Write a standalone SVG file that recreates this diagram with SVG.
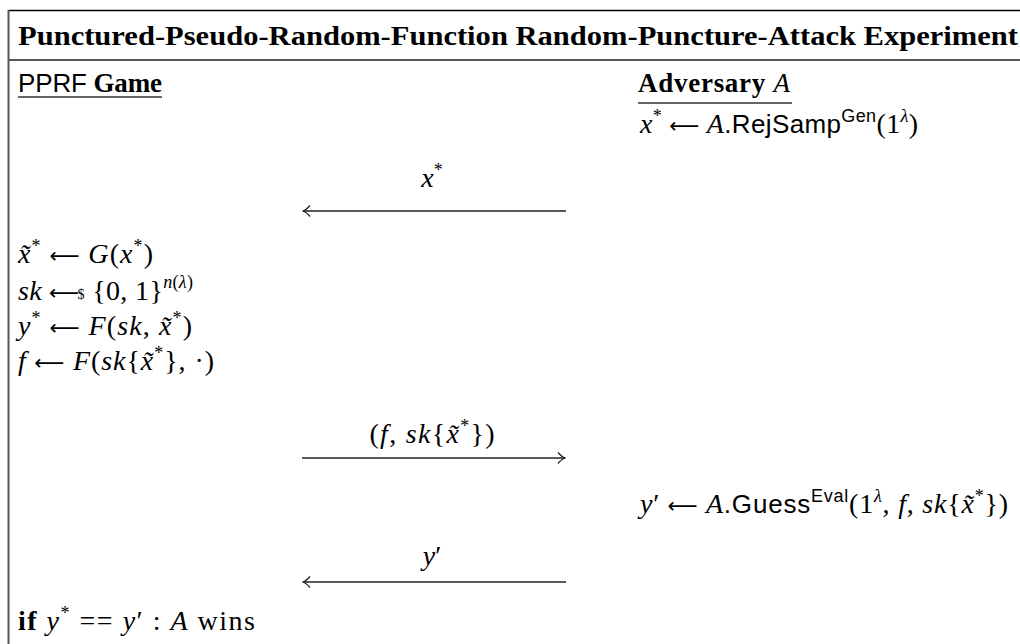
<svg xmlns="http://www.w3.org/2000/svg" width="1020" height="644" viewBox="0 0 1020 644">
<style>
.t{font-family:"Liberation Serif",serif;font-size:27px;fill:#000}
.m{font-family:"Liberation Serif",serif;font-size:28px;font-style:italic;fill:#000}
.r{font-style:normal}
.ar{font-family:"DejaVu Sans",sans-serif;font-style:normal;font-size:21px}
.sf{font-family:"Liberation Sans",sans-serif;font-style:normal;font-size:26px}
.b{font-weight:bold;font-style:normal}
.sup{font-size:18px}
.frame{stroke:#000;stroke-width:1.5;fill:none}
.rule{stroke:#555;stroke-width:2;fill:none}
.ul{stroke:#333;stroke-width:1.5}
.arr{stroke:#222;stroke-width:1.4;fill:none}
</style>
<defs>
<marker id="hd" viewBox="-9 -7 10 14" markerWidth="10" markerHeight="14" refX="0" refY="0" orient="auto" markerUnits="userSpaceOnUse">
<path d="M-7,-5.5 Q-3,-1 0,0 Q-3,1 -7,5.5" stroke="#222" stroke-width="1.3" fill="none"/>
</marker>
</defs>
<rect width="1020" height="644" fill="#fff"/>
<g id="frame">
<line class="frame" x1="8.5" y1="10.5" x2="1020" y2="10.5"/>
<line class="rule" x1="8.5" y1="10" x2="8.5" y2="644"/>
<line class="rule" x1="8" y1="60" x2="1020" y2="60"/>
</g>
<g id="title">
<text class="t b" x="18" y="45" textLength="1000" lengthAdjust="spacingAndGlyphs">Punctured-Pseudo-Random-Function Random-Puncture-Attack Experiment</text>
</g>
<g id="game-head">
<text class="t" x="18" y="92" textLength="144" lengthAdjust="spacing"><tspan class="sf" font-size="24">PPRF</tspan> <tspan class="b">Game</tspan></text>
<line class="ul" x1="18" y1="97" x2="162" y2="97"/>
</g>
<g id="adv-head">
<text class="t" x="638" y="92" textLength="152" lengthAdjust="spacing"><tspan class="b">Adversary</tspan> <tspan font-style="italic">A</tspan></text>
<line class="ul" x1="638" y1="103" x2="792" y2="103"/>
</g>
<g id="adv-rejsamp">
<text class="m" x="640" y="133" textLength="278" lengthAdjust="spacing">x<tspan class="sup r" dy="-11">*</tspan><tspan class="ar" dy="11"> ⟵ </tspan>A<tspan class="sf">.RejSamp</tspan><tspan class="sf sup" dy="-11">Gen</tspan><tspan class="r" dy="11">(1</tspan><tspan class="sup" dy="-11">λ</tspan><tspan class="r" dy="11">)</tspan></text>
</g>
<g id="game-steps">
<text class="m" x="18" y="263" textLength="135" lengthAdjust="spacing">x̃<tspan class="sup r" dy="-11">*</tspan><tspan class="ar" dy="11"> ⟵ </tspan>G<tspan class="r">(</tspan>x<tspan class="sup r" dy="-11">*</tspan><tspan class="r" dy="11">)</tspan></text>
<text class="m" x="18" y="300" textLength="175" lengthAdjust="spacing">sk<tspan class="ar"> ⟵</tspan><tspan class="r" font-size="14" dx="-2" dy="-1">$</tspan><tspan class="r" dy="1"> {0, 1}</tspan><tspan class="sup" dy="-12">n<tspan class="r">(</tspan>λ<tspan class="r">)</tspan></tspan></text>
<text class="m" x="18" y="335" textLength="174" lengthAdjust="spacing">y<tspan class="sup r" dy="-11">*</tspan><tspan class="ar" dy="11"> ⟵ </tspan>F<tspan class="r">(</tspan>sk<tspan class="r">, </tspan>x̃<tspan class="sup r" dy="-11">*</tspan><tspan class="r" dy="11">)</tspan></text>
<text class="m" x="18" y="370" textLength="196" lengthAdjust="spacing">f<tspan class="ar"> ⟵ </tspan>F<tspan class="r">(</tspan>sk<tspan class="r">{</tspan>x̃<tspan class="sup r" dy="-11">*</tspan><tspan class="r" dy="11">}, ·)</tspan></text>
</g>
<g id="adv-guess">
<text class="m" x="640" y="513" textLength="368" lengthAdjust="spacing">y<tspan class="r">′</tspan><tspan class="ar"> ⟵ </tspan>A<tspan class="sf">.Guess</tspan><tspan class="sf sup" dy="-11">Eval</tspan><tspan class="r" dy="11">(1</tspan><tspan class="sup" dy="-11">λ</tspan><tspan class="r" dy="11">, </tspan>f<tspan class="r">, </tspan>sk<tspan class="r">{</tspan>x̃<tspan class="sup r" dy="-11">*</tspan><tspan class="r" dy="11">})</tspan></text>
</g>
<g id="result">
<text class="m" x="18" y="630" textLength="237" lengthAdjust="spacing"><tspan class="b">if</tspan> y<tspan class="sup r" dy="-11">*</tspan><tspan class="r" dy="11"> == </tspan>y<tspan class="r">′ : </tspan>A<tspan class="r"> wins</tspan></text>
</g>
<g id="connectors">
<line class="arr" x1="566" y1="211" x2="303" y2="211" marker-end="url(#hd)"/>
<text class="m" x="432" y="187" text-anchor="middle">x<tspan class="sup r" dy="-11">*</tspan></text>
<line class="arr" x1="302" y1="458" x2="565" y2="458" marker-end="url(#hd)"/>
<text class="m" x="432" y="443" text-anchor="middle" textLength="125" lengthAdjust="spacing"><tspan class="r">(</tspan>f<tspan class="r">, </tspan>sk<tspan class="r">{</tspan>x̃<tspan class="sup r" dy="-11">*</tspan><tspan class="r" dy="11">})</tspan></text>
<line class="arr" x1="566" y1="582" x2="303" y2="582" marker-end="url(#hd)"/>
<text class="m" x="432" y="565" text-anchor="middle">y<tspan class="r">′</tspan></text>
</g>
</svg>
